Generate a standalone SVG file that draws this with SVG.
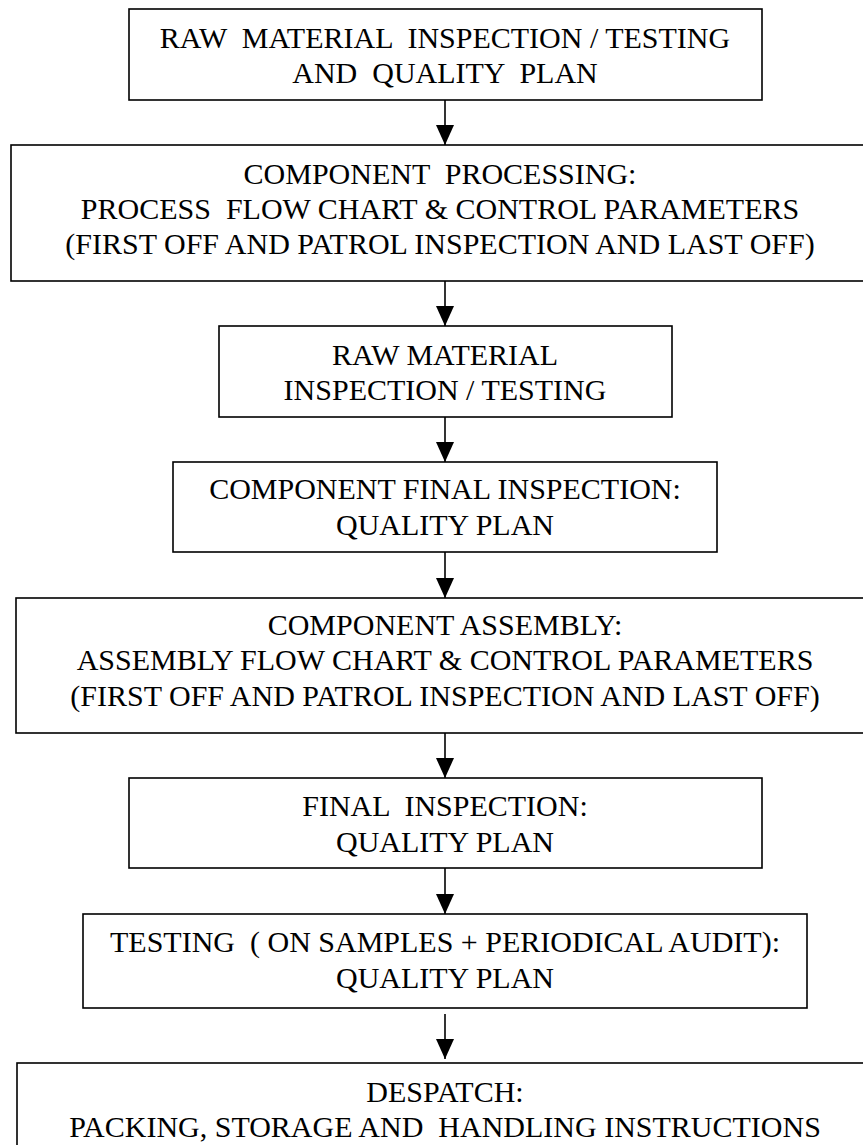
<svg xmlns="http://www.w3.org/2000/svg" width="863" height="1145" viewBox="0 0 863 1145">
<style>
  .box { fill: #ffffff; stroke: #000000; stroke-width: 1.6; }
  .lbl { font-family: "Liberation Serif", "Times New Roman", serif; font-size: 30px; fill: #000000; text-anchor: middle; white-space: pre; }
  .conn { stroke: #000000; stroke-width: 1.6; fill: none; marker-end: url(#arrow); }
</style>
<defs>
  <marker id="arrow" markerUnits="userSpaceOnUse" markerWidth="20" markerHeight="18" viewBox="0 0 20 18" refX="20" refY="9" orient="auto">
    <path d="M0,0 L20,9 L0,18 z" fill="#000000"/>
  </marker>
</defs>
<rect width="863" height="1145" fill="#ffffff"/>
<g id="connectors">
  <line class="conn" x1="445" y1="100" x2="445" y2="145"/>
  <line class="conn" x1="445" y1="281" x2="445" y2="326"/>
  <line class="conn" x1="445" y1="417" x2="445" y2="462"/>
  <line class="conn" x1="445" y1="552" x2="445" y2="598"/>
  <line class="conn" x1="445" y1="733" x2="445" y2="778"/>
  <line class="conn" x1="445" y1="868" x2="445" y2="914"/>
  <line class="conn" x1="445" y1="1014" x2="445" y2="1059"/>
</g>
<g id="node1">
  <rect class="box" x="129" y="9" width="633" height="91"/>
  <text class="lbl" x="445" y="48">RAW  MATERIAL  INSPECTION / TESTING</text>
  <text class="lbl" x="445" y="83">AND  QUALITY  PLAN</text>
</g>
<g id="node2">
  <rect class="box" x="11" y="145" width="868" height="136"/>
  <text class="lbl" x="440" y="184">COMPONENT  PROCESSING:</text>
  <text class="lbl" x="440" y="219">PROCESS  FLOW CHART &amp; CONTROL PARAMETERS</text>
  <text class="lbl" x="440" y="254">(FIRST OFF AND PATROL INSPECTION AND LAST OFF)</text>
</g>
<g id="node3">
  <rect class="box" x="219" y="326" width="453" height="91"/>
  <text class="lbl" x="445" y="365">RAW MATERIAL</text>
  <text class="lbl" x="445" y="400">INSPECTION / TESTING</text>
</g>
<g id="node4">
  <rect class="box" x="173" y="462" width="544" height="90"/>
  <text class="lbl" x="445" y="499">COMPONENT FINAL INSPECTION:</text>
  <text class="lbl" x="445" y="535">QUALITY PLAN</text>
</g>
<g id="node5">
  <rect class="box" x="16" y="598" width="858" height="135"/>
  <text class="lbl" x="445" y="635">COMPONENT ASSEMBLY:</text>
  <text class="lbl" x="445" y="670">ASSEMBLY FLOW CHART &amp; CONTROL PARAMETERS</text>
  <text class="lbl" x="445" y="706">(FIRST OFF AND PATROL INSPECTION AND LAST OFF)</text>
</g>
<g id="node6">
  <rect class="box" x="129" y="778" width="633" height="90"/>
  <text class="lbl" x="445" y="816">FINAL  INSPECTION:</text>
  <text class="lbl" x="445" y="852">QUALITY PLAN</text>
</g>
<g id="node7">
  <rect class="box" x="83" y="914" width="724" height="94"/>
  <text class="lbl" x="445" y="952">TESTING  ( ON SAMPLES + PERIODICAL AUDIT):</text>
  <text class="lbl" x="445" y="988">QUALITY PLAN</text>
</g>
<g id="node8">
  <rect class="box" x="17" y="1063" width="856" height="110"/>
  <text class="lbl" x="445" y="1102">DESPATCH:</text>
  <text class="lbl" x="445" y="1137">PACKING, STORAGE AND  HANDLING INSTRUCTIONS</text>
</g>
</svg>
